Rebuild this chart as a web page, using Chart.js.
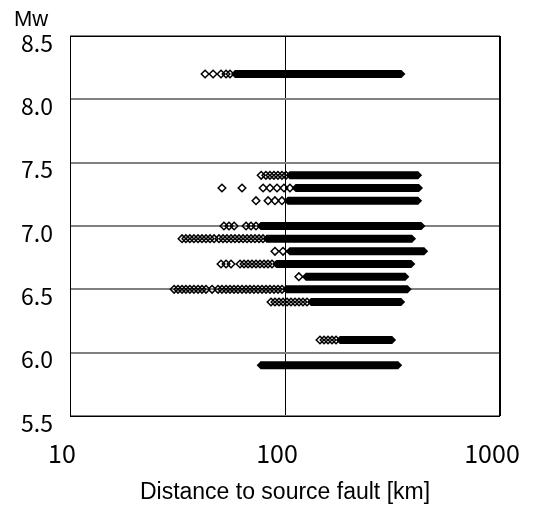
<!DOCTYPE html>
<html>
<head>
<meta charset="utf-8">
<script src="https://cdn.jsdelivr.net/npm/chart.js@4"></script>
<style>
  body { margin: 0; background: #fff; }
  canvas { display: block; }
</style>
</head>
<body>
<canvas id="mwChart" width="534" height="512"></canvas>
<script>
// --- 1. data ---
const mwRows = [8.2, 7.4, 7.3, 7.2, 7.0, 6.9, 6.8, 6.7, 6.6, 6.5, 6.4, 6.1, 5.9];
// distance [km] where each row turns into a solid run of markers, and where it ends
const denseFrom = [58.5, 105, 112, 103, 77, 82, 105, 91, 125, 101, 132, 180, 77];
const denseTo = [348, 416, 420, 416, 431, 390, 444, 387, 363, 372, 347, 315, 336];
// separate (open) markers left of the solid run
const openDistances = [
    [42.5, 46.3, 50.4, 53.2, 55.5],
    [77.5, 81.5, 85.1, 88.8, 92.7, 96.8, 101],
    [50.9, 63.1, 79.1, 85.1, 91.8, 98.9, 105.4],
    [73.3, 83.4, 89.8, 96.8],
    [52, 54.9, 58, 65.9, 69.5, 73.3],
    [33.2, 34.6, 36.1, 37.7, 39.4, 41.1, 42.9, 44.8, 46.8, 49.3, 51.5, 53.7, 56.1, 58.5, 61.1, 63.8, 66.6, 69.5, 72.5, 75.7, 79.0],
    [89.8, 97.9],
    [50.4, 53.2, 56.1, 61.8, 64.5, 67.3, 70.2, 73.3, 76.5, 79.9, 83.3, 87.0],
    [116],
    [30.5, 31.8, 33.2, 34.6, 36.1, 37.7, 39.4, 41.1, 42.9, 45.8, 48.8, 50.9, 53.2, 55.5, 57.9, 60.4, 63.1, 65.9, 68.7, 71.7, 74.9, 78.2, 81.6, 85.1, 88.9, 92.8, 96.8],
    [86.1, 89.8, 93.8, 97.9, 102.2, 106.6, 111.3, 116.2, 121.2, 126.6],
    [145.5, 151.9, 158.5, 165.4, 172.7],
    []
];
const xTicks = [10, 100, 1000];
const yTicks = [5.5, 6.0, 6.5, 7.0, 7.5, 8.0, 8.5];


// --- 2. datasets ---
const datasets = [];
mwRows.forEach((mw, i) => {
    // solid part: thick line with diamond ends
    datasets.push({
        data: [{ x: denseFrom[i], y: mw }, { x: denseTo[i], y: mw }],
        showLine: true,
        borderColor: '#000',
        borderWidth: 8,
        borderCapStyle: 'butt',
        pointStyle: 'rectRot',
        pointRadius: 4,
        pointBackgroundColor: '#000',
        pointBorderWidth: 0
    });
    // open diamonds
    datasets.push({
        data: openDistances[i].map(d => ({ x: d, y: mw })),
        showLine: false,
        pointStyle: 'rectRot',
        pointRadius: 3.8,
        pointBackgroundColor: 'rgba(0,0,0,0)',
        pointBorderColor: '#000',
        pointBorderWidth: 1.5
    });
});


// --- 3. frame + "Mw" label ---
const framePlugin = {
    id: 'frame',
    afterDraw(chart) {
        const { ctx, chartArea } = chart;
        ctx.save();
        ctx.strokeStyle = '#000';
        ctx.lineWidth = 1;
        ctx.strokeRect(chartArea.left + 0.5, chartArea.top + 0.5,
            chartArea.right - chartArea.left - 1, chartArea.bottom - chartArea.top);
        ctx.fillStyle = '#000';
        ctx.font = '22px "Liberation Sans", Arial, sans-serif';
        ctx.textBaseline = 'middle';
        ctx.textAlign = 'left';
        ctx.fillText('Mw', 14, 20);
        ctx.restore();
    }
};


// --- 4. chart ---
const tickFont = { family: '"Noto Sans CJK JP", sans-serif', size: 23 };

new Chart(document.getElementById('mwChart'), {
    type: 'scatter',
    data: { datasets },
    options: {
        responsive: false,
        animation: false,
        layout: { padding: { top: 36, right: 34, left: 0, bottom: 0 } },
        plugins: {
            legend: { display: false },
            tooltip: { enabled: false }
        },
        scales: {
            x: {
                type: 'logarithmic',
                min: 10,
                max: 1000,
                afterBuildTicks: scale => { scale.ticks = xTicks.map(v => ({ value: v })); },
                afterFit: scale => {
                    scale.height = 96;
                    // labels may hang over the edges, keep the plot box fixed
                    scale.paddingLeft = 0;
                    scale.paddingRight = 0;
                },
                ticks: {
                    color: '#000',
                    font: { family: '"Noto Sans CJK JP", sans-serif', size: 25 },
                    padding: 22,
                    labelOffset: -8,
                    maxRotation: 0,
                    callback: v => String(v)
                },
                grid: { color: '#000', lineWidth: 1, drawTicks: false },
                border: { display: false },
                title: {
                    display: true,
                    text: 'Distance to source fault [km]',
                    color: '#000',
                    font: { family: '"Liberation Sans", Arial, sans-serif', size: 23 },
                    padding: { top: 0, bottom: 6 }
                }
            },
            y: {
                min: 5.5,
                max: 8.5,
                afterBuildTicks: scale => { scale.ticks = yTicks.map(v => ({ value: v })); },
                afterFit: scale => {
                    scale.width = 70;
                    scale.paddingTop = 0;
                    scale.paddingBottom = 0;
                },
                ticks: {
                    color: '#000',
                    font: tickFont,
                    padding: 17,
                    labelOffset: 7,
                    callback: v => v.toFixed(1)
                },
                grid: { color: '#808080', lineWidth: 2, drawTicks: false },
                border: { display: false }
            }
        }
    },
    plugins: [framePlugin]
});
</script>
</body>
</html>
